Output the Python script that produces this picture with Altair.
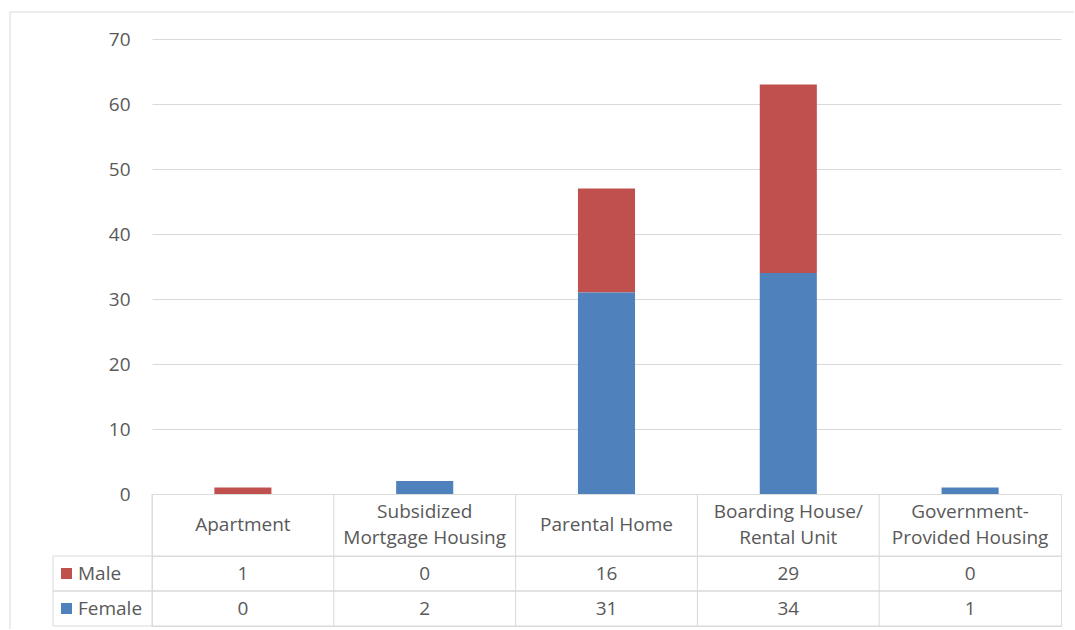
import altair as alt
import pandas as pd

# Housing type by gender, with the values shown in a data table below the bars
categories = [
    "Apartment",
    "Subsidized Mortgage Housing",
    "Parental Home",
    "Boarding House/ Rental Unit",
    "Government-Provided Housing",
]
category_labels = [
    "Apartment",
    "Subsidized\nMortgage Housing",
    "Parental Home",
    "Boarding House/\nRental Unit",
    "Government-\nProvided Housing",
]
series = ["Male", "Female"]
male = [1, 0, 16, 29, 0]
female = [0, 2, 31, 34, 1]
series_colors = ["#C0504D", "#4F81BD"]
y_ticks = [0, 10, 20, 30, 40, 50, 60, 70]

FONT = "Open Sans"
TEXT = "#595959"
LINE = "#D9D9D9"
FS = 19

PLOT_W = 909
BAR_H = 455
HEAD_H = 62
ROW_H = 35
LINE_H = 26

rows = []
for name, vals, rank in zip(series, [male, female], [1, 0]):
    for cat, v in zip(categories, vals):
        rows.append({"category": cat, "series": name, "value": v, "stack": rank})
values = pd.DataFrame(rows)
header = pd.DataFrame({"category": categories, "label": category_labels})
keys = pd.DataFrame({"series": series})
one = pd.DataFrame({"k": [0]})

color = alt.Color(
    "series:N", scale=alt.Scale(domain=series, range=series_colors), legend=None
)

# --- stacked columns ---
bars = alt.Chart(values).mark_bar().encode(
    x=alt.X(
        "category:N",
        sort=categories,
        scale=alt.Scale(paddingInner=0.686, paddingOuter=0.343),
        axis=None,
    ),
    y=alt.Y(
        "value:Q",
        stack="zero",
        scale=alt.Scale(domain=[0, 70], nice=False),
        axis=alt.Axis(
            values=y_ticks,
            title=None,
            domain=False,
            ticks=False,
            labelPadding=22,
            grid=True,
            gridColor=LINE,
            labelFont=FONT,
            labelFontSize=FS,
            labelColor=TEXT,
        ),
    ),
    color=color,
    order=alt.Order("stack:Q"),
)

# chart-area frame (top and left edges)
frame_top = alt.Chart(one).mark_rule(color=LINE).encode(
    x=alt.value(-142), x2=alt.value(922), y=alt.value(-27)
)
frame_left = alt.Chart(one).mark_rule(color=LINE).encode(
    x=alt.value(-142), y=alt.value(-27), y2=alt.value(590)
)

top = alt.layer(bars, frame_top, frame_left).properties(
    width=PLOT_W, height=BAR_H, view=alt.ViewBackground(stroke="transparent")
)


def table_x(band_pos=None):
    kw = {} if band_pos is None else {"bandPosition": band_pos}
    return alt.X(
        "category:N",
        sort=categories,
        scale=alt.Scale(paddingInner=0, paddingOuter=0),
        axis=None,
        **kw,
    )


text_style = dict(font=FONT, fontSize=FS, color=TEXT)

# --- table header: category names ---
head_single = (
    alt.Chart(header)
    .transform_filter("indexof(datum.label, '\\n') < 0")
    .mark_text(baseline="middle", **text_style)
    .encode(x=table_x(), y=alt.value(HEAD_H / 2), text="label:N")
)
head_double = (
    alt.Chart(header)
    .transform_filter("indexof(datum.label, '\\n') >= 0")
    .mark_text(
        baseline="middle", lineBreak="\n", lineHeight=LINE_H, dy=-LINE_H / 2, **text_style
    )
    .encode(x=table_x(), y=alt.value(HEAD_H / 2), text="label:N")
)
head_cols = alt.Chart(header).mark_rule(color=LINE).encode(
    x=table_x(0), y=alt.value(0), y2=alt.value(HEAD_H)
)
header_chart = alt.layer(head_cols, head_single, head_double).properties(
    width=PLOT_W, height=HEAD_H
)

# --- table body: values per series ---
def row_y(band_pos=None):
    kw = {} if band_pos is None else {"bandPosition": band_pos}
    return alt.Y(
        "series:N",
        sort=series,
        scale=alt.Scale(paddingInner=0, paddingOuter=0),
        axis=None,
        **kw,
    )


body_cols = alt.Chart(header).mark_rule(color=LINE).encode(
    x=table_x(0), y=alt.value(0), y2=alt.value(2 * ROW_H)
)
row_top = alt.Chart(keys).mark_rule(color=LINE).encode(
    y=row_y(0), x=alt.value(-99), x2=alt.value(PLOT_W)
)
row_bottom = alt.Chart(keys).mark_rule(color=LINE).encode(
    y=row_y(1), x=alt.value(-99), x2=alt.value(PLOT_W)
)
left_edge = alt.Chart(one).mark_rule(color=LINE).encode(
    x=alt.value(-99), y=alt.value(0), y2=alt.value(2 * ROW_H)
)
body_text = alt.Chart(values).mark_text(**text_style).encode(
    x=table_x(), y=row_y(), text="value:Q"
)
legend_keys = alt.Chart(keys).mark_square(size=121, opacity=1).encode(
    x=alt.value(-85.5), y=row_y(), color=color
)
legend_text = alt.Chart(keys).mark_text(align="left", **text_style).encode(
    x=alt.value(-74), y=row_y(), text="series:N"
)

body = alt.layer(
    body_cols, row_top, row_bottom, left_edge, body_text, legend_keys, legend_text
).properties(width=PLOT_W, height=2 * ROW_H)

chart = (
    alt.vconcat(top, header_chart, body, spacing=0, bounds="flush")
    .resolve_scale(x="independent", y="independent")
    .properties(padding={"left": 9, "top": 11, "right": 0, "bottom": 0})
    .configure_view(stroke=LINE, strokeWidth=1)
    .configure(font=FONT, background="white")
)

chart.save("out.html", embed_options={"renderer": "svg", "actions": False})
